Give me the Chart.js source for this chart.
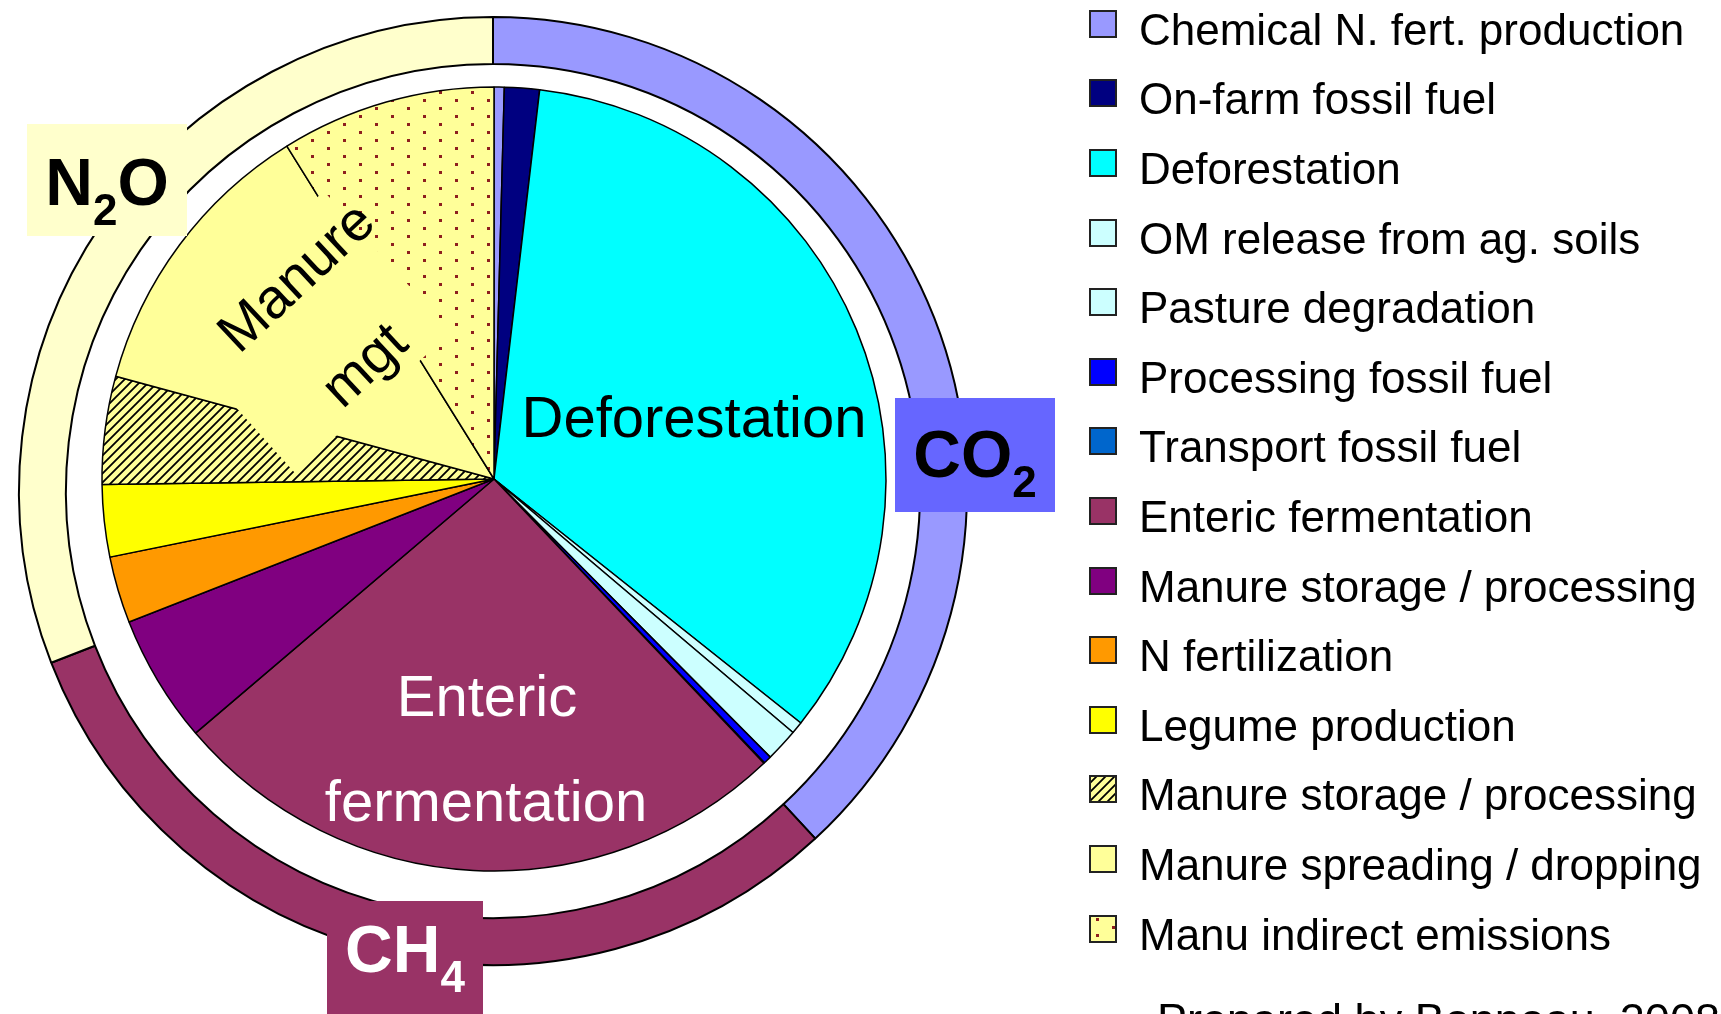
<!DOCTYPE html>
<html>
<head>
<meta charset="utf-8">
<script src="https://cdn.jsdelivr.net/npm/chart.js@4.4.1/dist/chart.umd.min.js"></script>
<style>
  html, body { margin: 0; padding: 0; background: #fff; overflow: hidden; }
  #page { position: relative; width: 1721px; height: 1014px; overflow: hidden; }
  canvas.layer { position: absolute; left: 0; top: 0; }
  #legend { position: absolute; left: 1089px; top: -9px; margin: 0; padding: 0; list-style: none;
            font-family: "Liberation Sans", Arial, sans-serif; font-size: 44px; color: #000; }
  #legend li { height: 69.6px; display: flex; align-items: center; white-space: nowrap; }
  #legend canvas { margin-right: 22px; position: relative; top: -2px; }
  #legend span { position: relative; top: 4px; }
  #credit { position: absolute; left: 1157px; top: 997px; white-space: nowrap;
            font: 45px/1 "Liberation Sans", Arial, sans-serif; color: #000; }
</style>
</head>
<body>
<div id="page">
  <canvas id="pie" class="layer" width="1721" height="1014"></canvas>
  <canvas id="ring" class="layer" width="1721" height="1014"></canvas>
  <ul id="legend"></ul>
  <div id="credit">Prepared by Bonneau, 2008</div>
</div>
<script>
// emission sources, clockwise from 12 o'clock (share of total, %)
const sources = [
  'Chemical N. fert. production', 'On-farm fossil fuel', 'Deforestation',
  'OM release from ag. soils', 'Pasture degradation', 'Processing fossil fuel',
  'Transport fossil fuel', 'Enteric fermentation', 'Manure storage / processing',
  'N fertilization', 'Legume production', 'Manure storage / processing',
  'Manure spreading / dropping', 'Manu indirect emissions'
];
const shares = [0.42, 1.44, 33.83, 0.5, 1.36, 0.33, 0.03, 25.86, 5.28, 2.75, 2.97, 4.44, 11.92, 8.86];
const sourceColors = ['#9999FF', '#000080', '#00FFFF', '#CCFFFF', '#CCFFFF', '#0000FF', '#0066CC',
                      '#993366', '#800080', '#FF9900', '#FFFF00', 'hatch', '#FFFF99', 'dots'];

// outer ring: totals per gas (%)
const gases = ['CO2', 'CH4', 'N2O'];
const gasShares = [38.1, 31.0, 30.9];
const gasColors = ['#9999FF', '#993366', '#FFFFCC'];
const gasText = [['CO', '2', ''], ['CH', '4', ''], ['N', '2', 'O']];

const FONT = '"Liberation Sans", Arial, sans-serif';
const rad = d => d * Math.PI / 180;

function hatchPattern() {
  const c = document.createElement('canvas');
  c.width = 9; c.height = 9;
  const g = c.getContext('2d');
  g.fillStyle = '#FFFF99';
  g.fillRect(0, 0, 9, 9);
  g.strokeStyle = '#000';
  g.lineWidth = 1.8;
  g.beginPath();
  g.moveTo(-1, 10); g.lineTo(10, -1);
  g.moveTo(-1, 1); g.lineTo(1, -1);
  g.moveTo(8, 10); g.lineTo(10, 8);
  g.stroke();
  return g.createPattern(c, 'repeat');
}

function dotPattern() {
  const c = document.createElement('canvas');
  c.width = 32; c.height = 16;
  const g = c.getContext('2d');
  g.fillStyle = '#FFFF99';
  g.fillRect(0, 0, 32, 16);
  g.fillStyle = '#8E1F1F';
  g.fillRect(7, 3, 3, 3);
  g.fillRect(23, 11, 3, 3);
  return g.createPattern(c, 'repeat');
}

const fills = sourceColors.map(c => c === 'hatch' ? hatchPattern() : c === 'dots' ? dotPattern() : c);

// text written on the slices
const pieLabels = {
  id: 'pieLabels',
  afterDatasetsDraw(chart) {
    const ctx = chart.ctx;

    // background of the "Manure mgt" text box hides part of the hatching and dots
    ctx.save();
    ctx.translate(295, 473);
    ctx.rotate(rad(-42));
    ctx.fillStyle = '#FFFF99';
    ctx.fillRect(0, -190, 210, 190);
    ctx.restore();

    ctx.save();
    ctx.fillStyle = '#000';
    ctx.font = '56px ' + FONT;
    ctx.textAlign = 'center';
    ctx.textBaseline = 'middle';
    [['Manure', 298, 279], ['mgt', 366, 367]].forEach(([t, x, y]) => {
      ctx.save();
      ctx.translate(x, y);
      ctx.rotate(rad(-43));
      ctx.fillText(t, 0, 0);
      ctx.restore();
    });

    ctx.textBaseline = 'alphabetic';
    ctx.font = '58px ' + FONT;
    ctx.fillText('Deforestation', 694, 437);
    ctx.fillStyle = '#FFF';
    ctx.fillText('Enteric', 487, 716);
    ctx.fillText('fermentation', 486, 821);
    ctx.restore();
  }
};

// coloured tags for each gas
const tagBoxes = [
  { x: 895, y: 398, w: 160, h: 114, fill: '#6666FF', ink: '#000', base: 477 },
  { x: 327, y: 901, w: 156, h: 120, fill: '#993366', ink: '#FFF', base: 972 },
  { x: 27, y: 124, w: 160, h: 112, fill: '#FFFFCC', ink: '#000', base: 205 }
];

const gasTags = {
  id: 'gasTags',
  afterDraw(chart) {
    const ctx = chart.ctx;
    const big = 'bold 66px ' + FONT;
    const small = 'bold 44px ' + FONT;
    ctx.save();
    tagBoxes.forEach((b, i) => {
      ctx.fillStyle = b.fill;
      ctx.fillRect(b.x, b.y, b.w, b.h);
      const [a, sub, c] = gasText[i];
      ctx.font = big;
      const wa = ctx.measureText(a).width;
      const wc = ctx.measureText(c).width;
      ctx.font = small;
      const ws = ctx.measureText(sub).width;
      let x = b.x + b.w / 2 - (wa + ws + wc) / 2;
      ctx.fillStyle = b.ink;
      ctx.textAlign = 'left';
      ctx.textBaseline = 'alphabetic';
      ctx.font = big;
      ctx.fillText(a, x, b.base);
      x += wa;
      ctx.font = small;
      ctx.fillText(sub, x, b.base + 20);
      x += ws;
      ctx.font = big;
      ctx.fillText(c, x, b.base);
    });
    ctx.restore();
  }
};

new Chart(document.getElementById('pie'), {
  type: 'pie',
  data: {
    labels: sources,
    datasets: [{ data: shares, backgroundColor: fills, borderColor: '#000', borderWidth: 1.5 }]
  },
  options: {
    responsive: false,
    animation: false,
    events: [],
    radius: 392,
    layout: { padding: { left: 0, top: 0, right: 733, bottom: 56 } },
    plugins: { legend: { display: false }, tooltip: { enabled: false } }
  },
  plugins: [pieLabels]
});

new Chart(document.getElementById('ring'), {
  type: 'doughnut',
  data: {
    labels: gases,
    datasets: [{ data: gasShares, backgroundColor: gasColors, borderColor: '#000', borderWidth: 2 }]
  },
  options: {
    responsive: false,
    animation: false,
    events: [],
    radius: 474,
    cutout: '90.1%',
    layout: { padding: { left: 0, top: 0, right: 735, bottom: 32 } },
    plugins: { legend: { display: false }, tooltip: { enabled: false } }
  },
  plugins: [gasTags]
});

// legend as html list, swatches painted with the same fills
const legend = document.getElementById('legend');
sources.forEach((name, i) => {
  const li = document.createElement('li');
  const sw = document.createElement('canvas');
  sw.width = 28; sw.height = 28;
  const g = sw.getContext('2d');
  g.fillStyle = fills[i];
  g.fillRect(0, 0, 28, 28);
  g.strokeStyle = '#222';
  g.lineWidth = 2;
  g.strokeRect(1, 1, 26, 26);
  const span = document.createElement('span');
  span.textContent = name;
  li.append(sw, span);
  legend.appendChild(li);
});
</script>
</body>
</html>
